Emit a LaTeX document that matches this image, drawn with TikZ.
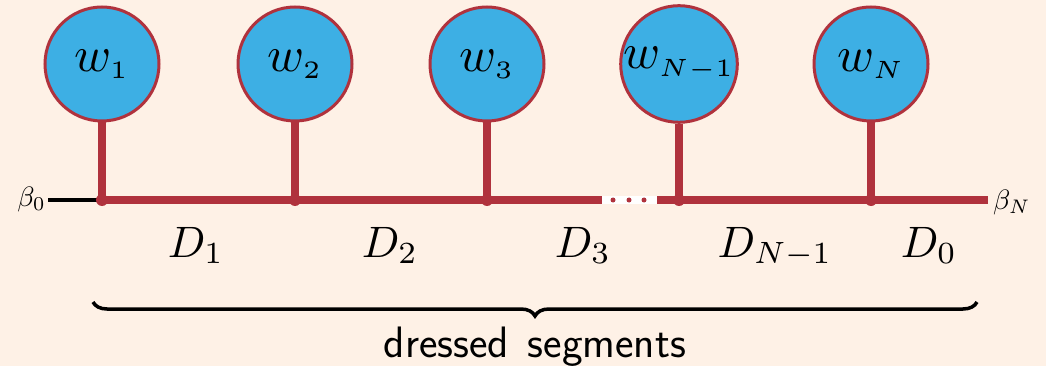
\documentclass[tikz,border=0pt]{standalone}
\usepackage{graphicx}
\usetikzlibrary{decorations.pathreplacing}
\definecolor{bgcol}{HTML}{FEF1E6}
\definecolor{wred}{HTML}{B0323D}
\definecolor{wblue}{HTML}{3DAFE4}
\tikzset{
  wnode/.style={circle, draw=wred, line width=3pt, fill=wblue, minimum size=114pt, inner sep=0pt},
  redline/.style={draw=wred, line width=8pt},
  dlabel/.style={anchor=base, inner sep=0pt},
  blabel/.style={inner sep=0pt},
  jdot/.style={circle, fill=wred, minimum size=12pt, inner sep=0pt},
  gdot/.style={circle, fill=wred, minimum size=5pt, inner sep=0pt},
}
\newcommand{\wlab}[1]{\scalebox{5}{$w_{\scriptscriptstyle #1}$}}
\newcommand{\dlab}[1]{\scalebox{4.4}{$D_{#1}$}}
\newcommand{\blab}[1]{\scalebox{2.8}{$\beta_{#1}$}}
\begin{document}
\begin{tikzpicture}[x=1pt,y=-1pt]
\fill[bgcol] (0,0) rectangle (1046,366);
\useasboundingbox (0,0) rectangle (1046,366);
% junctions
\coordinate (j1) at (102,200);
\coordinate (j2) at (295,200);
\coordinate (j3) at (487,200);
\coordinate (j4) at (679,200);
\coordinate (j5) at (871,200);
\coordinate (e) at (988,200);
\coordinate (b0) at (48,200);
% lines
\draw[black, line width=3pt] (b0) -- (j1);
\draw[redline] (j1) -- (e);
\node[fill=white, minimum width=55pt, minimum height=8.5pt, inner sep=0pt] (gap) at (629,200) {};
\node[gdot] (g1) at (613,200) {};
\node[gdot] (g2) at (629,200) {};
\node[gdot] (g3) at (644,200) {};
% circles
\node[wnode] (w1) at (102,64) {\wlab{1}};
\node[wnode] (w2) at (295,64) {\wlab{2}};
\node[wnode] (w3) at (487,64) {\wlab{3}};
\node[wnode] (w4) at (679,64) {\wlab{N-1}};
\node[wnode] (w5) at (871,64) {\wlab{N}};
\foreach \i in {1,...,5}{
  \draw[redline] (w\i.south) -- (j\i);
  \node[jdot] (d\i) at (j\i) {};
}
% beta labels
\node[blabel, anchor=east] (beta0) at ([xshift=-2pt,yshift=1pt]b0) {\blab{0}};
\node[blabel, anchor=west] (betaN) at ([xshift=5pt,yshift=-2pt]e) {\blab{N}};
% D labels
\node[dlabel] (D1) at (196,257) {\dlab{1}};
\node[dlabel] (D2) at (390,257) {\dlab{2}};
\node[dlabel] (D3) at (583,257) {\dlab{3}};
\node[dlabel] (D4) at (775,257) {\dlab{N-1}};
\node[dlabel] (D5) at (929,257) {\dlab{0}};
% brace
\coordinate (bl) at (93,302);
\coordinate (br) at (977,302);
\draw[line width=3.5pt, decorate, decoration={brace, mirror, amplitude=14pt}] (bl) -- (br);
\node[anchor=base, inner sep=0pt, font=\fontsize{44}{50}\selectfont\sffamily] (lab) at (535,357) {dressed\hspace{5pt} segments};
\end{tikzpicture}
\end{document}
